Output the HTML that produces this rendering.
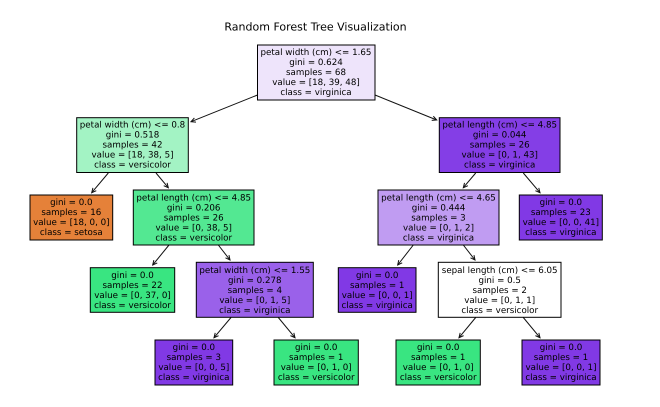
<!DOCTYPE html>
<html><head><meta charset="utf-8"><style>
html,body{margin:0;padding:0;background:#fff}
svg{display:block}
text{text-rendering:geometricPrecision}
.t text{font-family:"DejaVu Sans",sans-serif;font-size:8.7px;text-anchor:middle;fill:#000}
rect{stroke:#000;stroke-width:1}
line{stroke:#111;stroke-width:1;marker-end:url(#a)}
</style></head><body>
<svg width="660" height="407" viewBox="0 0 660 407" xmlns="http://www.w3.org/2000/svg">
<defs><marker id="a" markerUnits="userSpaceOnUse" markerWidth="10" markerHeight="10" refX="7" refY="3.5" orient="auto"><path d="M2.5 1.3L7 3.5L2.5 5.7" fill="none" stroke="#111" stroke-width="1"/></marker></defs>
<text x="315.5" y="30.5" text-anchor="middle" style="font-family:'DejaVu Sans',sans-serif;font-size:11px" fill="#000">Random Forest Tree Visualization</text>
<line x1="257.5" y1="95" x2="191" y2="121.7"/>
<line x1="375" y1="95" x2="436.7" y2="120"/>
<line x1="108.3" y1="173" x2="91.7" y2="192.7"/>
<line x1="156" y1="173" x2="168.3" y2="187.7"/>
<line x1="475.7" y1="173" x2="463.3" y2="187.7"/>
<line x1="523.3" y1="173" x2="540" y2="192.7"/>
<line x1="169" y1="245" x2="152.7" y2="265"/>
<line x1="218.3" y1="245" x2="230" y2="260"/>
<line x1="413.3" y1="245" x2="397.7" y2="265"/>
<line x1="463.3" y1="245" x2="475" y2="260"/>
<line x1="231" y1="317.5" x2="214" y2="337.7"/>
<line x1="278.3" y1="317.5" x2="295" y2="337.7"/>
<line x1="475.7" y1="317.5" x2="459" y2="337.7"/>
<line x1="523.3" y1="317.5" x2="540" y2="337.7"/>
<g>
<rect x="257.5" y="45" width="117.5" height="55" fill="#eee4fb"/>
<rect x="76.7" y="117.7" width="111.6" height="54.8" fill="#a3f3c4"/>
<rect x="30" y="195" width="82.7" height="45" fill="#e58139"/>
<rect x="133.3" y="190" width="120.7" height="55" fill="#53e892"/>
<rect x="439.3" y="117.7" width="120.7" height="54.8" fill="#843ee6"/>
<rect x="378" y="190" width="121" height="55" fill="#c09cf2"/>
<rect x="519.3" y="195" width="83" height="45" fill="#8139e5"/>
<rect x="90.3" y="267.7" width="84.4" height="44.6" fill="#39e581"/>
<rect x="196.3" y="262.3" width="117" height="55" fill="#9a61ea"/>
<rect x="338.3" y="267.7" width="77.7" height="44.6" fill="#8139e5"/>
<rect x="438.3" y="262.3" width="122.7" height="55" fill="#ffffff"/>
<rect x="155" y="340" width="77.7" height="45" fill="#8139e5"/>
<rect x="274" y="340" width="84.3" height="45" fill="#39e581"/>
<rect x="396" y="340" width="84.3" height="45" fill="#39e581"/>
<rect x="522" y="340" width="78" height="45" fill="#8139e5"/>
</g>
<g class="t">
<text x="316" y="55">petal width (cm) &lt;= 1.65</text><text x="316" y="65">gini = 0.624</text><text x="316" y="75">samples = 68</text><text x="316" y="85">value = [18, 39, 48]</text><text x="316" y="95">class = virginica</text>
<text x="132.5" y="127.5">petal width (cm) &lt;= 0.8</text><text x="132.5" y="137.5">gini = 0.518</text><text x="132.5" y="147.5">samples = 42</text><text x="132.5" y="157.5">value = [18, 38, 5]</text><text x="132.5" y="167.5">class = versicolor</text>
<text x="71.3" y="205">gini = 0.0</text><text x="71.3" y="215">samples = 16</text><text x="71.3" y="225">value = [18, 0, 0]</text><text x="71.3" y="235">class = setosa</text>
<text x="193.7" y="200.3">petal length (cm) &lt;= 4.85</text><text x="193.7" y="210.3">gini = 0.206</text><text x="193.7" y="220.3">samples = 26</text><text x="193.7" y="230.3">value = [0, 38, 5]</text><text x="193.7" y="240.3">class = versicolor</text>
<text x="499.7" y="127.5">petal length (cm) &lt;= 4.85</text><text x="499.7" y="137.5">gini = 0.044</text><text x="499.7" y="147.5">samples = 26</text><text x="499.7" y="157.5">value = [0, 1, 43]</text><text x="499.7" y="167.5">class = virginica</text>
<text x="438.5" y="200.3">petal length (cm) &lt;= 4.65</text><text x="438.5" y="210.3">gini = 0.444</text><text x="438.5" y="220.3">samples = 3</text><text x="438.5" y="230.3">value = [0, 1, 2]</text><text x="438.5" y="240.3">class = virginica</text>
<text x="560.8" y="205">gini = 0.0</text><text x="560.8" y="215">samples = 23</text><text x="560.8" y="225">value = [0, 0, 41]</text><text x="560.8" y="235">class = virginica</text>
<text x="132.5" y="278">gini = 0.0</text><text x="132.5" y="288">samples = 22</text><text x="132.5" y="298">value = [0, 37, 0]</text><text x="132.5" y="308">class = versicolor</text>
<text x="254.8" y="272.8">petal width (cm) &lt;= 1.55</text><text x="254.8" y="282.8">gini = 0.278</text><text x="254.8" y="292.8">samples = 4</text><text x="254.8" y="302.8">value = [0, 1, 5]</text><text x="254.8" y="312.8">class = virginica</text>
<text x="377.2" y="278">gini = 0.0</text><text x="377.2" y="288">samples = 1</text><text x="377.2" y="298">value = [0, 0, 1]</text><text x="377.2" y="308">class = virginica</text>
<text x="499.7" y="272.8">sepal length (cm) &lt;= 6.05</text><text x="499.7" y="282.8">gini = 0.5</text><text x="499.7" y="292.8">samples = 2</text><text x="499.7" y="302.8">value = [0, 1, 1]</text><text x="499.7" y="312.8">class = versicolor</text>
<text x="193.8" y="350">gini = 0.0</text><text x="193.8" y="360">samples = 3</text><text x="193.8" y="370">value = [0, 0, 5]</text><text x="193.8" y="380">class = virginica</text>
<text x="316.2" y="350">gini = 0.0</text><text x="316.2" y="360">samples = 1</text><text x="316.2" y="370">value = [0, 1, 0]</text><text x="316.2" y="380">class = versicolor</text>
<text x="438.2" y="350">gini = 0.0</text><text x="438.2" y="360">samples = 1</text><text x="438.2" y="370">value = [0, 1, 0]</text><text x="438.2" y="380">class = versicolor</text>
<text x="561" y="350">gini = 0.0</text><text x="561" y="360">samples = 1</text><text x="561" y="370">value = [0, 0, 1]</text><text x="561" y="380">class = virginica</text>
</g>
</svg>
</body></html>
